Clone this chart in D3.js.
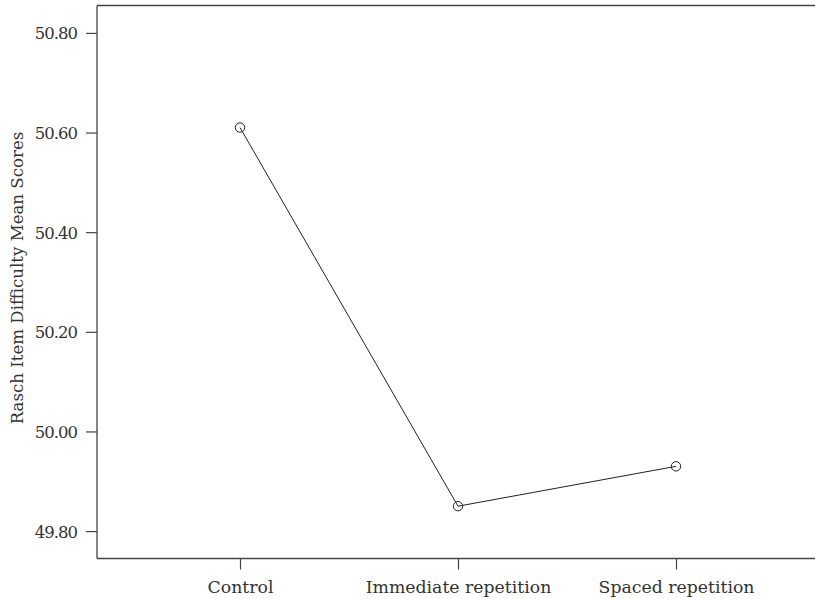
<!DOCTYPE html>
<html>
<head>
<meta charset="utf-8">
<script src="https://cdn.jsdelivr.net/npm/d3@7"></script>
<style>
  html, body { margin: 0; padding: 0; background: #fff; overflow: hidden; }
  svg { display: block; }
</style>
</head>
<body>
<svg id="chart" width="815" height="599"></svg>
<script>
const categories = ["Control", "Immediate repetition", "Spaced repetition"];
const meanScores = [50.61, 49.85, 49.93];
const yTicks = [49.80, 50.00, 50.20, 50.40, 50.60, 50.80];
const yTitle = "Rasch Item Difficulty Mean Scores";

(function () {
const svg = d3.select("#chart");
const mLeft = 97, mRight = 819, mTop = 5.5, mBottom = 558.5;
const textColor = "#333";
const axisColor = "#444";
const serif = "DejaVu Serif";

const x = d3.scalePoint().domain(categories).range([mLeft, mRight]).padding(0.656);
const y = d3.scaleLinear().domain([49.745, 50.855]).range([mBottom, mTop]);

// frame: top, left, bottom (right edge off-canvas)
svg.append("line").attr("x1", mLeft).attr("x2", 815).attr("y1", mTop).attr("y2", mTop)
  .attr("stroke", axisColor).attr("stroke-width", 1.3);
svg.append("line").attr("x1", mLeft).attr("x2", 815).attr("y1", mBottom).attr("y2", mBottom)
  .attr("stroke", axisColor).attr("stroke-width", 1.3);
svg.append("line").attr("x1", mLeft).attr("x2", mLeft).attr("y1", mTop).attr("y2", mBottom)
  .attr("stroke", axisColor).attr("stroke-width", 1.3);

const yAxis = svg.append("g")
  .attr("transform", `translate(${mLeft},0)`)
  .call(d3.axisLeft(y).tickValues(yTicks).tickFormat(d3.format(".2f")).tickSize(11).tickPadding(9));
yAxis.select(".domain").remove();
yAxis.selectAll(".tick line").attr("stroke", axisColor).attr("stroke-width", 1.2);
yAxis.selectAll(".tick text")
  .attr("fill", textColor)
  .attr("font-family", serif)
  .attr("font-size", 16.5)
  .attr("letter-spacing", -1)
  .attr("dy", "0.36em");

const xAxis = svg.append("g")
  .attr("transform", `translate(0,${mBottom})`)
  .call(d3.axisBottom(x).tickSize(11).tickPadding(9));
xAxis.select(".domain").remove();
xAxis.selectAll(".tick line").attr("stroke", axisColor).attr("stroke-width", 1.2);
xAxis.selectAll(".tick text")
  .attr("fill", textColor)
  .attr("font-family", serif)
  .attr("font-size", 17.3)
  .attr("dy", "0.86em");

svg.append("text")
  .attr("transform", `translate(22.5,${(mTop + mBottom) / 2 - 4}) rotate(-90)`)
  .attr("text-anchor", "middle")
  .attr("fill", textColor)
  .attr("font-family", serif)
  .attr("font-size", 16.6)
  .text(yTitle);

const data = categories.map((c, i) => ({ c, v: meanScores[i] }));

svg.append("path")
  .datum(data)
  .attr("fill", "none")
  .attr("stroke", "#222")
  .attr("stroke-width", 1)
  .attr("d", d3.line().x(d => x(d.c)).y(d => y(d.v)));

svg.selectAll("circle.pt")
  .data(data)
  .join("circle")
  .attr("class", "pt")
  .attr("cx", d => x(d.c))
  .attr("cy", d => y(d.v))
  .attr("r", 4.7)
  .attr("fill", "none")
  .attr("stroke", "#222")
  .attr("stroke-width", 1);
})();
</script>
</body>
</html>
